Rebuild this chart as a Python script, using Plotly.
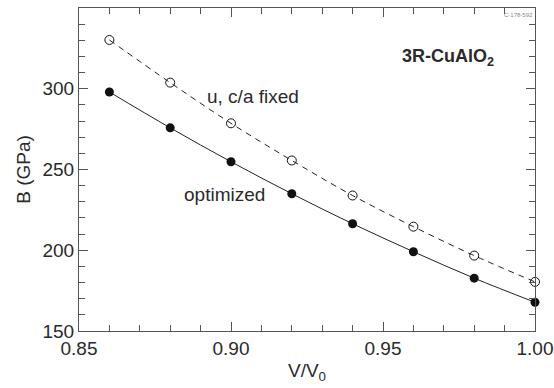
import plotly.graph_objects as go

v_ratio = [0.86, 0.88, 0.90, 0.92, 0.94, 0.96, 0.98, 1.00]
b_optimized = [298.0, 275.8, 254.8, 235.0, 216.4, 199.1, 182.7, 167.8]
b_fixed = [330.2, 303.8, 278.6, 255.6, 233.9, 214.6, 196.7, 180.4]

FONT = "Liberation Sans, Arial, Helvetica, sans-serif"
TXT = "#2a2a2a"
AX = "#555555"
FS = 19

fig = go.Figure()
fig.add_trace(go.Scatter(
    x=v_ratio, y=b_fixed, mode="lines+markers",
    line=dict(color="#222222", width=1, dash="6px,5px", shape="spline"),
    marker=dict(symbol="circle-open", size=9, color="#111111", line=dict(width=1)),
    showlegend=False, cliponaxis=False))
fig.add_trace(go.Scatter(
    x=v_ratio, y=b_optimized, mode="lines+markers",
    line=dict(color="#222222", width=1, shape="spline"),
    marker=dict(symbol="circle", size=9, color="#111111"),
    showlegend=False, cliponaxis=False))

axis_common = dict(
    showgrid=False, zeroline=False, showline=True, linecolor=AX, linewidth=1.2,
    mirror="ticks", ticks="inside", ticklen=9, tickwidth=1, tickcolor=AX,
    tickfont=dict(family=FONT, size=FS, color=TXT), automargin=False,
)
fig.update_xaxes(range=[0.85, 1.00], dtick=0.05, tickformat=".2f",
                 minor=dict(dtick=0.01, ticks="inside", ticklen=6, tickcolor=AX),
                 title=dict(text="V/V<sub>0</sub>", font=dict(family=FONT, size=FS, color=TXT), standoff=5),
                 **axis_common)
fig.update_yaxes(range=[150, 350], dtick=50,
                 minor=dict(dtick=10, ticks="inside", ticklen=6, tickcolor=AX),
                 title=dict(text="B (GPa)", font=dict(family=FONT, size=FS, color=TXT), standoff=6),
                 **axis_common)

fig.add_annotation(x=0.9714, y=319.5, xref="x", yref="y", text="<b>3R-CuAlO<sub>2</sub></b>",
                   showarrow=False, font=dict(family=FONT, size=18, color=TXT))
fig.add_annotation(x=0.9072, y=295.5, xref="x", yref="y", text="u, c/a fixed",
                   showarrow=False, font=dict(family=FONT, size=FS, color=TXT))
fig.add_annotation(x=0.8977, y=234.8, xref="x", yref="y", text="optimized",
                   showarrow=False, font=dict(family=FONT, size=FS, color=TXT))
fig.add_annotation(x=1.0, y=0.995, xref="paper", yref="paper", xanchor="right", yanchor="top",
                   text="C-178-592", showarrow=False, font=dict(family=FONT, size=6, color="#888888"))

fig.update_layout(
    width=554, height=388, margin=dict(l=79, r=19, t=8, b=57),
    plot_bgcolor="white", paper_bgcolor="white",
)
fig.write_html("out.html")
